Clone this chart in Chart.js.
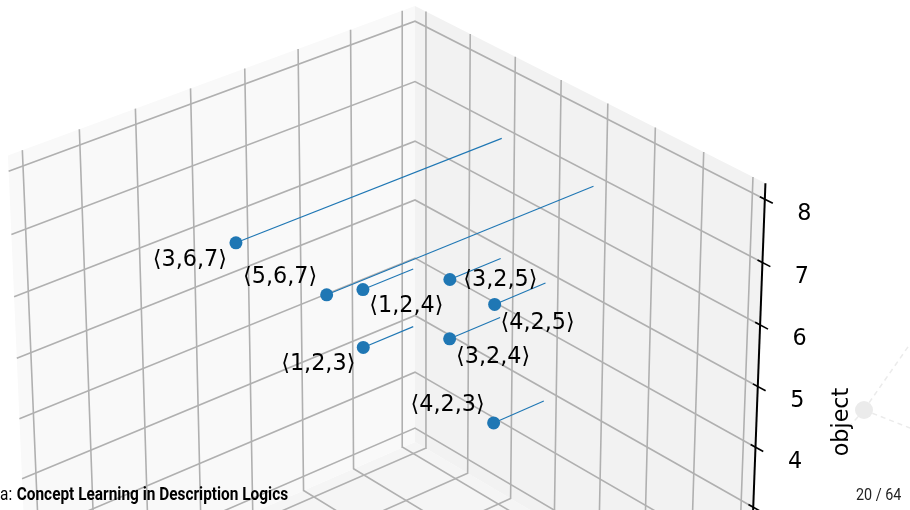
<!DOCTYPE html>
<html lang="en">

<head>
    <meta charset="UTF-8">
    <title>Concept Learning in Description Logics</title>
    <script src="https://cdn.jsdelivr.net/npm/chart.js"></script>
    <style>
        html, body {
            margin: 0;
            padding: 0;
            background: white;
        }

        #chart {
            display: block;
        }
    </style>
</head>

<body>
<canvas id="chart" width="910" height="510"></canvas>

<script>
    // The triples: subject, predicate, object
    const subjects = [3, 5, 1, 3, 4, 1, 3, 4];
    const predicates = [6, 6, 2, 2, 2, 2, 2, 2];
    const objects = [7, 7, 4, 5, 5, 3, 4, 3];
    const pointLabels = ['⟨3,6,7⟩', '⟨5,6,7⟩', '⟨1,2,4⟩', '⟨3,2,5⟩', '⟨4,2,5⟩', '⟨1,2,3⟩', '⟨3,2,4⟩', '⟨4,2,3⟩'];

    // Axis ticks, the same on all three axes, and where the stems end
    const gridTicks = [1, 2, 3, 4, 5, 6, 7, 8];
    const objectTickLabels = [4, 5, 6, 7, 8];
    const stemBase = 1;
    const axisMin = 0.75;
    const axisMax = 8.25;

    // Where each label sits relative to its point, in pixels
    const labelOffsets = [[-46, 17], [-46.5, -18], [43.5, 17], [50.5, 1], [43, 19], [-45, 17], [43.5, 18], [-46, -18]];

    // Perspective camera fitted to the reference
    function project(x, y, z) {
        const p = x - axisMin, q = y - axisMin, r = z - axisMin;
        const w = 1 - 0.0082 * p - 0.00761 * q - 0.00613 * r;
        return {
            x: (415 + 38.3 * p - 51.84 * q - 2.544 * r) / w,
            y: (442 + 21.05 * p + 17.82 * q - 58.17 * r) / w
        };
    }

    function polyline(points) {
        return points.map(pt => project(pt[0], pt[1], pt[2]));
    }

    const datasets = [];

    function addLine(data, color, width, order, extra) {
        datasets.push(Object.assign({
            data: data,
            showLine: true,
            borderColor: color,
            borderWidth: width,
            pointRadius: 0,
            tension: 0,
            order: order
        }, extra || {}));
    }

    // Panes
    function addPane(corners, color) {
        addLine(polyline(corners.concat([corners[0]])), color, 0, 9, { fill: 'shape', backgroundColor: color });
    }
    const lo = axisMin, hi = axisMax;
    addPane([[lo, lo, lo], [lo, hi, lo], [lo, hi, hi], [lo, lo, hi]], '#f9f9f9');
    addPane([[lo, lo, lo], [hi, lo, lo], [hi, lo, hi], [lo, lo, hi]], '#f2f2f2');
    addPane([[lo, lo, lo], [hi, lo, lo], [hi, hi, lo], [lo, hi, lo]], '#f5f5f5');

    // Grid lines
    gridTicks.forEach(t => {
        addLine(polyline([[t, hi, lo], [t, lo, lo], [t, lo, hi]]), '#b0b0b0', 1.6, 8);
        addLine(polyline([[hi, t, lo], [lo, t, lo], [lo, t, hi]]), '#b0b0b0', 1.6, 8);
        addLine(polyline([[lo, hi, t], [lo, lo, t], [hi, lo, t]]), '#b0b0b0', 1.6, 8);
    });

    // Object axis with its ticks
    addLine(polyline([[hi, lo, lo], [hi, lo, hi]]), '#000000', 2, 7);
    gridTicks.forEach(t => {
        addLine(polyline([[hi - 0.1, lo, t], [hi + 0.16, lo, t]]), '#000000', 1.6, 7);
    });

    // Stems
    subjects.forEach((s, i) => {
        addLine(polyline([[s, predicates[i], objects[i]], [s, stemBase, objects[i]]]), '#1f77b4', 1.1, 6);
    });

    // Points
    datasets.push({
        data: subjects.map((s, i) => project(s, predicates[i], objects[i])),
        showLine: false,
        pointRadius: 6.5,
        pointBackgroundColor: '#1f77b4',
        pointBorderWidth: 0,
        order: 5
    });

    // Faint network from the slide background
    const nodeCentre = { x: 864, y: 410 };
    [{ x: 910, y: 344 }, { x: 910, y: 428 }, { x: 848, y: 428 }].forEach(end => {
        addLine([nodeCentre, end], '#ebebeb', 1.5, 10, { borderDash: [5, 4] });
    });
    datasets.push({
        data: [nodeCentre],
        showLine: false,
        pointRadius: 9,
        pointBackgroundColor: '#ebebeb',
        pointBorderWidth: 0,
        order: 10
    });

    // Text: point labels, tick labels, axis title and the slide footer
    const textPlugin = {
        id: 'texts',
        afterDatasetsDraw(chart) {
            const c = chart.ctx;
            const sx = chart.scales.x, sy = chart.scales.y;
            c.save();
            c.fillStyle = '#000000';
            c.textAlign = 'center';
            c.textBaseline = 'middle';
            c.font = '22.3px "DejaVu Sans"';

            pointLabels.forEach((label, i) => {
                const pt = project(subjects[i], predicates[i], objects[i]);
                c.fillText(label, sx.getPixelForValue(pt.x) + labelOffsets[i][0], sy.getPixelForValue(pt.y) + labelOffsets[i][1]);
            });

            objectTickLabels.forEach(t => {
                const pt = project(hi, lo, t);
                c.fillText(String(t), sx.getPixelForValue(pt.x) + 39.5, sy.getPixelForValue(pt.y) + 14.5);
            });

            c.save();
            c.translate(842, 422);
            c.rotate(-Math.PI / 2);
            c.fillText('object', 0, 0);
            c.restore();

            // Footer uses a condensed look, so squeeze Roboto sideways
            c.textAlign = 'left';
            c.save();
            c.translate(0, 495.5);
            c.scale(0.88, 1);
            c.font = '17.5px Roboto';
            c.fillText('a:', 0, 0);
            c.font = 'bold 17.5px Roboto';
            c.fillText('Concept Learning in Description Logics', 19, 0);
            c.restore();

            c.save();
            c.translate(856, 495.5);
            c.scale(0.87, 1);
            c.font = '16.5px Roboto';
            c.fillStyle = '#222222';
            c.fillText('20 / 64', 0, 0);
            c.restore();
            c.restore();
        }
    };

    new Chart(document.getElementById('chart').getContext('2d'), {
        type: 'scatter',
        data: { datasets: datasets },
        options: {
            responsive: false,
            animation: false,
            layout: { padding: 0, autoPadding: false },
            plugins: {
                legend: { display: false },
                tooltip: { enabled: false }
            },
            scales: {
                x: { type: 'linear', display: false, min: 0, max: 910 },
                y: { type: 'linear', display: false, min: 0, max: 510, reverse: true }
            }
        },
        plugins: [textPlugin]
    });
</script>
</body>
</html>
